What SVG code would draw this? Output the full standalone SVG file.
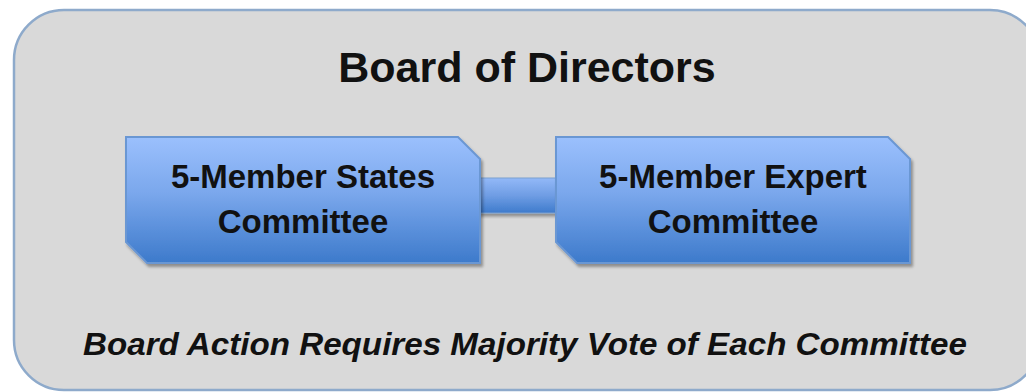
<svg xmlns="http://www.w3.org/2000/svg" width="1026" height="392" viewBox="0 0 1026 392">
  <defs>
    <linearGradient id="boxGrad" x1="0" y1="0" x2="0" y2="1">
      <stop offset="0" stop-color="#9bc0fd"/>
      <stop offset="0.45" stop-color="#7aa7ec"/>
      <stop offset="1" stop-color="#3d7acb"/>
    </linearGradient>
    <linearGradient id="barGrad" x1="0" y1="0" x2="0" y2="1">
      <stop offset="0" stop-color="#93b9f8"/>
      <stop offset="0.5" stop-color="#6f9de4"/>
      <stop offset="1" stop-color="#3e7bcc"/>
    </linearGradient>
    <filter id="shadow" x="-5%" y="-5%" width="112%" height="120%">
      <feGaussianBlur in="SourceAlpha" stdDeviation="1.5"/>
      <feOffset dx="2" dy="3" result="b"/>
      <feComponentTransfer><feFuncA type="linear" slope="0.35"/></feComponentTransfer>
      <feMerge><feMergeNode/><feMergeNode in="SourceGraphic"/></feMerge>
    </filter>
    <style>
      .title { font-family: "Liberation Sans", Arial, sans-serif; font-weight: bold; font-size: 43px; fill: #111; }
      .label { font-family: "Liberation Sans", Arial, sans-serif; font-weight: bold; font-size: 33px; fill: #111; }
      .note { font-family: "Liberation Sans", Arial, sans-serif; font-weight: bold; font-style: italic; font-size: 32px; fill: #111; }
      .box { fill: url(#boxGrad); stroke: #6b97d3; stroke-width: 2; filter: url(#shadow); }
    </style>
  </defs>
  <rect width="1026" height="392" fill="#ffffff"/>
  <g id="board">
    <rect x="14" y="10" width="1026" height="380" rx="50" ry="50" fill="#d9d9d9" stroke="#8eaacb" stroke-width="2.5"/>
    <text class="title" x="527" y="82" text-anchor="middle">Board of Directors</text>
    <text class="note" x="525" y="355" text-anchor="middle" textLength="884" lengthAdjust="spacingAndGlyphs">Board Action Requires Majority Vote of Each Committee</text>
  </g>
  <g id="connectors">
    <rect x="478" y="178" width="80" height="35" fill="url(#barGrad)" stroke="#7b9fd0" stroke-width="1" filter="url(#shadow)"/>
  </g>
  <g id="states-committee">
    <path class="box" d="M126,137 H458 L480,159 V263 H147 L126,242 Z"/>
    <text class="label" x="303" y="188" text-anchor="middle">5-Member States</text>
    <text class="label" x="303" y="233" text-anchor="middle">Committee</text>
  </g>
  <g id="expert-committee">
    <path class="box" d="M556,137 H888 L910,159 V263 H577 L556,242 Z"/>
    <text class="label" x="733" y="188" text-anchor="middle">5-Member Expert</text>
    <text class="label" x="733" y="233" text-anchor="middle">Committee</text>
  </g>
</svg>
